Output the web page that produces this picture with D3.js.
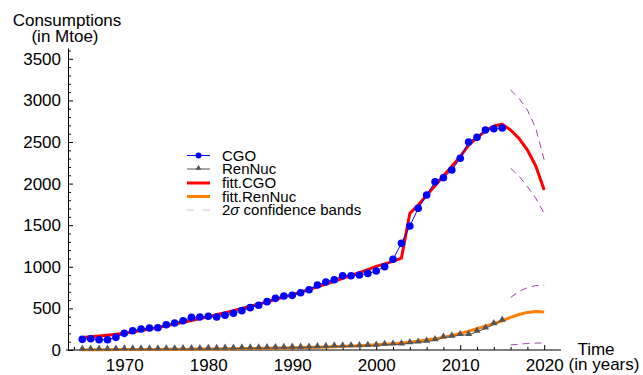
<!DOCTYPE html>
<html>
<head>
<meta charset="utf-8">
<script src="https://cdn.jsdelivr.net/npm/d3@7"></script>
<style>
  html, body { margin: 0; padding: 0; background: #fff; }
  svg { display: block; font-family: "Liberation Sans", Arial, sans-serif; }
</style>
</head>
<body>
<svg id="chart" width="643" height="375"></svg>
<script>
// ---------- data ----------
const years = d3.range(1965, 2016);
const cgo = [128, 136, 124, 124, 152, 200, 232, 252, 264, 268,
             304, 324, 352, 392, 397, 405, 397, 417, 441, 473,
             509, 537, 581, 621, 649, 657, 689, 725, 781, 817,
             845, 893, 893, 901, 921, 949, 1000, 1090, 1282, 1490,
             1703, 1863, 2023, 2071, 2163, 2304, 2500, 2556, 2644, 2660,
             2668];
const renNuc = [5, 5, 5, 5, 5, 6, 7, 7, 8, 8,
               9, 9, 10, 11, 12, 13, 14, 16, 17, 19,
               20, 21, 22, 24, 26, 28, 28, 30, 34, 38,
               43, 43, 45, 47, 50, 53, 63, 66, 68, 82,
               90, 100, 118, 150, 160, 180, 182, 220, 258, 310,
               352];
const fitYears = d3.range(1965, 2021);
const fitCGO = [150, 158, 167, 177, 188, 200, 216, 233, 251, 270,
                290, 311, 332, 354, 377, 400, 424, 448, 473, 499,
                525, 552, 579, 607, 636, 665, 696, 727, 759, 792,
                825, 860, 895, 930, 967, 1005, 1035, 1065, 1105, 1643,
                1743, 1860, 1975, 2091, 2208, 2324, 2464, 2553, 2632, 2692,
                2713, 2644, 2544, 2404, 2211, 1923];
const fitRenNuc = [3, 3, 4, 4, 5, 5, 6, 6, 7, 7,
                   8, 9, 10, 10, 11, 12, 13, 14, 15, 17,
                   18, 20, 21, 23, 25, 27, 29, 32, 34, 37,
                   40, 44, 48, 52, 57, 62, 69, 76, 84, 94,
                   105, 119, 134, 152, 174, 200, 227, 256, 286, 318,
                   350, 392, 427, 452, 462, 458];
const bandYears = [2016, 2017, 2018, 2019, 2020];
const cgoUpper = [3125, 3025, 2885, 2665, 2284];
const cgoLower = [2184, 2091, 1963, 1823, 1643];
const renUpper = [630, 705, 750, 775, 780];
const renLower = [60, 70, 78, 83, 85];
const yMajor = [0, 500, 1000, 1500, 2000, 2500, 3000, 3500];
const xMajor = [1970, 1980, 1990, 2000, 2010, 2020];
const legendLabels = ["CGO", "RenNuc", "fitt.CGO", "fitt.RenNuc", "2σ confidence bands"];

// ---------- setup ----------
const svg = d3.select("#chart");
const x = d3.scaleLinear().domain([1963.3, 2022]).range([68, 561]);
const y = d3.scaleLinear().domain([0, 3630]).range([350, 48]);

const BLUE = "#0000ff", GRAY = "#555555", RED = "#ff0000", ORANGE = "#ff8000", PURPLE = "#a040b0";
const FS = 17;

// ---------- axes ----------
const yMinor = d3.range(0, 3601, 100).filter(v => v % 500 !== 0);
const xMinor = d3.range(1964, 2022, 2).filter(v => v % 10 !== 0);

const gy = svg.append("g").attr("transform", `translate(${x.range()[0]},0)`);
gy.call(d3.axisLeft(y).tickValues(yMajor).tickSize(-5).tickSizeOuter(0).tickPadding(7).tickFormat(d3.format("d")));
gy.append("g").call(d3.axisLeft(y).tickValues(yMinor).tickSize(-3).tickFormat("")).select(".domain").remove();
gy.selectAll("text").attr("font-size", FS).attr("fill", "#000").attr("font-family", "Liberation Sans, Arial, sans-serif");
gy.selectAll("line, path").attr("stroke", "#000");

const gx = svg.append("g").attr("transform", `translate(0,${y(0)})`);
gx.call(d3.axisBottom(x).tickValues(xMajor).tickSize(-5).tickSizeOuter(0).tickPadding(9).tickFormat(d3.format("d")));
gx.append("g").call(d3.axisBottom(x).tickValues(xMinor).tickSize(-3).tickFormat("")).select(".domain").remove();
gx.selectAll("text").attr("font-size", FS).attr("fill", "#000").attr("font-family", "Liberation Sans, Arial, sans-serif");
gx.selectAll("line, path").attr("stroke", "#000");
gx.select(".domain").attr("d", `M${x.range()[0] - 2},0H${x.range()[1]}`);

// axis titles
const yt = svg.append("text").attr("font-size", FS).attr("text-anchor", "middle").attr("fill", "#000");
yt.append("tspan").attr("x", 67).attr("y", 26).text("Consumptions");
yt.append("tspan").attr("x", 65).attr("y", 42).text("(in Mtoe)");
const xt = svg.append("text").attr("font-size", FS).attr("text-anchor", "middle").attr("fill", "#000");
xt.append("tspan").attr("x", 596).attr("y", 355).text("Time");
xt.append("tspan").attr("x", 604).attr("y", 370).text("(in years)");

// ---------- marks ----------
const line = d3.line().x(d => x(d[0])).y(d => y(d[1]));
const plot = svg.append("g");

// confidence bands
[cgoUpper, cgoLower, renUpper, renLower].forEach(arr => {
  plot.append("path")
    .attr("d", line(bandYears.map((yr, i) => [yr, arr[i]])))
    .attr("fill", "none").attr("stroke", PURPLE).attr("stroke-width", 1)
    .attr("stroke-dasharray", "7,5");
});

// fits
plot.append("path")
  .attr("d", line(fitYears.map((yr, i) => [yr, fitCGO[i]])))
  .attr("fill", "none").attr("stroke", RED).attr("stroke-width", 3).attr("stroke-linejoin", "round");
plot.append("path")
  .attr("d", line(fitYears.map((yr, i) => [yr, fitRenNuc[i]])))
  .attr("fill", "none").attr("stroke", ORANGE).attr("stroke-width", 3).attr("stroke-linejoin", "round");

// RenNuc data
plot.append("path")
  .attr("d", line(years.map((yr, i) => [yr, renNuc[i]])))
  .attr("fill", "none").attr("stroke", GRAY).attr("stroke-width", 1);
const tri = d3.symbol().type(d3.symbolTriangle).size(22);
plot.selectAll(".tri").data(years.map((yr, i) => [yr, renNuc[i]])).join("path")
  .attr("d", tri).attr("transform", d => `translate(${x(d[0])},${y(d[1]) - 1})`)
  .attr("fill", GRAY);

// CGO data
plot.append("path")
  .attr("d", line(years.map((yr, i) => [yr, cgo[i]])))
  .attr("fill", "none").attr("stroke", BLUE).attr("stroke-width", 1);
plot.selectAll(".dot").data(years.map((yr, i) => [yr, cgo[i]])).join("circle")
  .attr("cx", d => x(d[0])).attr("cy", d => y(d[1])).attr("r", 3.8)
  .attr("fill", BLUE);

// ---------- legend ----------
const lg = svg.append("g");
const rows = [155.5, 169, 183, 196.5, 210];
const lx0 = 187, lx1 = 210;
legendLabels.forEach((lab, i) => {
  const ry = rows[i];
  const g = lg.append("g");
  if (i === 0) {
    g.append("line").attr("x1", lx0).attr("x2", lx1).attr("y1", ry).attr("y2", ry).attr("stroke", BLUE).attr("stroke-width", 1);
    g.append("circle").attr("cx", (lx0 + lx1) / 2).attr("cy", ry).attr("r", 3).attr("fill", BLUE);
  } else if (i === 1) {
    g.append("line").attr("x1", lx0).attr("x2", lx1).attr("y1", ry).attr("y2", ry).attr("stroke", GRAY).attr("stroke-width", 1);
    g.append("path").attr("d", d3.symbol().type(d3.symbolTriangle).size(14)).attr("transform", `translate(${(lx0 + lx1) / 2},${ry - 1})`).attr("fill", GRAY);
  } else if (i === 2 || i === 3) {
    g.append("line").attr("x1", lx0).attr("x2", lx1).attr("y1", ry).attr("y2", ry).attr("stroke", i === 2 ? RED : ORANGE).attr("stroke-width", 3);
  } else {
    g.append("line").attr("x1", lx0).attr("x2", lx1).attr("y1", ry).attr("y2", ry).attr("stroke", "#d8b4dc").attr("stroke-width", 1).attr("stroke-dasharray", "7,9");
  }
  const t = g.append("text").attr("x", 222).attr("y", ry + 5).attr("font-size", 15).attr("fill", "#000");
  if (i === 4) {
    t.append("tspan").text("2");
    t.append("tspan").attr("font-style", "italic").text("σ");
    t.append("tspan").text(" confidence bands");
  } else {
    t.text(lab);
  }
});
</script>
</body>
</html>
